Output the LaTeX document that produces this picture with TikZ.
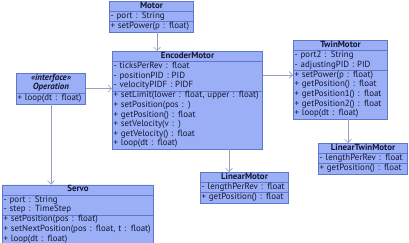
\documentclass[tikz,border=0pt]{standalone}
\usepackage{fontspec}
\setmainfont{PT Sans}
\usetikzlibrary{shapes.multipart,arrows.meta}
\setlength\parindent{0pt}
\definecolor{boxfill}{RGB}{155,175,247}
\definecolor{boxline}{RGB}{96,118,200}
\definecolor{wire}{RGB}{150,160,190}
\definecolor{ink}{RGB}{20,22,50}
% one text row of a class box
\newcommand\umlrow[1]{\strut#1\par}
\newcommand\umltitle[1]{\strut\hfill\textbf{#1}\hfill\hbox{}\par}
\tikzset{
  umlclass/.style={rectangle split, rectangle split parts=3,
    draw=boxline, fill=boxfill, line width=0.6pt, anchor=north west,
    inner xsep=1.2pt, inner ysep=0pt, text width=#1-3pt, align=left,
    font=\fontsize{8.9}{9.6}\selectfont, text=ink},
  conn/.style={draw=wire, line width=0.6pt,
    -{Straight Barb[length=3.5pt,width=7pt]}}
}
\begin{document}
\begin{tikzpicture}[x=1pt,y=-1pt]
  \fill[white] (0,0) rectangle (409,243);
  \useasboundingbox (0,0) rectangle (409,243);

  \node[umlclass=85pt] (motor) at (109,1)
    {\umltitle{Motor}
     \nodepart{second}\umlrow{- port : String}
     \nodepart{third}\umlrow{+ setPower(p : float)}};

  \node[umlclass=151pt] (enc) at (112,51)
    {\umltitle{EncoderMotor}
     \nodepart{second}\umlrow{- ticksPerRev : float}\umlrow{- positionPID : PID}\umlrow{- velocityPIDF : PIDF}
     \nodepart{third}\umlrow{+ setLimit(lower : float, upper : float)}\umlrow{+ setPosition(pos : )}\umlrow{+ getPosition() : float}\umlrow{+ setVelocity(v : )}\umlrow{+ getVelocity() : float}\umlrow{+ loop(dt : float)}};

  \node[umlclass=70pt] (op) at (16,73)
    {\umltitle{\itshape «interface»}\umltitle{\itshape Operation}
     \nodepart{second}\nodepart{third}\umlrow{+ loop(dt : float)}};

  \node[umlclass=152pt] (servo) at (2,184.5)
    {\umltitle{Servo}
     \nodepart{second}\umlrow{- port : String}\umlrow{- step : TimeStep}
     \nodepart{third}\umlrow{+ setPosition(pos : float)}\umlrow{+ setNextPosition(pos : float, t : float)}\umlrow{+ loop(dt : float)}};

  \node[umlclass=95pt] (twin) at (293,40)
    {\umltitle{TwinMotor}
     \nodepart{second}\umlrow{- port2 : String}\umlrow{- adjustingPID : PID}
     \nodepart{third}\umlrow{+ setPower(p : float)}\umlrow{+ getPosition() : float}\umlrow{+ getPosition1() : float}\umlrow{+ getPosition2() : float}\umlrow{+ loop(dt : float)}};

  \node[umlclass=89pt] (lin) at (200,172)
    {\umltitle{LinearMotor}
     \nodepart{second}\umlrow{- lengthPerRev : float}
     \nodepart{third}\umlrow{+ getPosition() : float}};

  \node[umlclass=90pt] (lintwin) at (318,143)
    {\umltitle{LinearTwinMotor}
     \nodepart{second}\umlrow{- lengthPerRev : float}
     \nodepart{third}\umlrow{+ getPosition() : float}};

  % guide coordinates for the connector tracks
  \coordinate (mx) at (157,0);
  \coordinate (ey) at (0,75);
  \coordinate (lx) at (229,0);
  \coordinate (tx) at (348,0);

  \draw[conn] (motor.south -| mx) -- (enc.north -| mx);
  \draw[conn] (op.east) -- (op.east -| enc.west);
  \draw[conn] (op.south) -- (servo.north -| op.south);
  \draw[conn] (enc.east |- ey) -- (twin.west |- ey);
  \draw[conn] (enc.south -| lx) -- (lin.north -| lx);
  \draw[conn] (twin.south -| tx) -- (lintwin.north -| tx);
\end{tikzpicture}
\end{document}
